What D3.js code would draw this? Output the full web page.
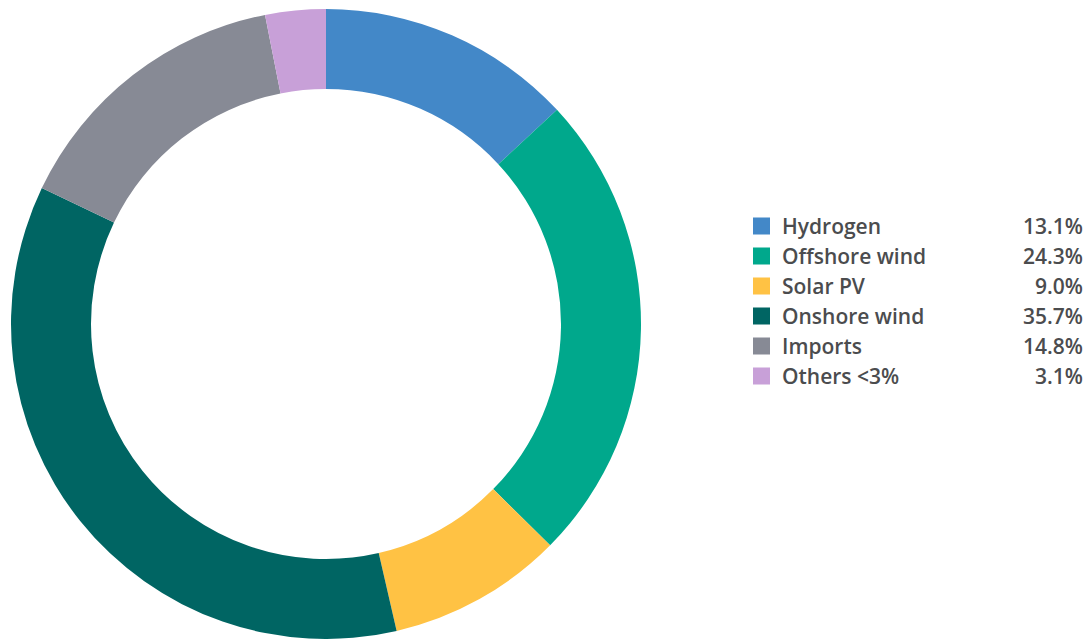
<!DOCTYPE html>
<html><head><meta charset="utf-8">
<script src="https://cdn.jsdelivr.net/npm/d3@7"></script>
<style>html,body{margin:0;padding:0;background:#fff;}svg{display:block;}</style>
</head><body>
<svg id="chart" width="1088" height="639"></svg>
<script>
const categories = ["Hydrogen","Offshore wind","Solar PV","Onshore wind","Imports","Others <3%"];
const values = [13.1,24.3,9.0,35.7,14.8,3.1];
const valueLabels = ["13.1%","24.3%","9.0%","35.7%","14.8%","3.1%"];
const colors = ["#4388c8","#00a88c","#ffc244","#006563","#878a95","#c8a0d8"];

const svg = d3.select("#chart");
const cx = 326, cy = 324, rOut = 315, rIn = 235;
const pie = d3.pie().sort(null).value(d => d);
const arc = d3.arc().innerRadius(rIn).outerRadius(rOut);
const g = svg.append("g").attr("transform", `translate(${cx},${cy})`);
g.selectAll("path").data(pie(values)).join("path")
  .attr("d", arc).attr("fill", (d,i) => colors[i]);

const y = d3.scalePoint().domain(categories).range([226, 376]);
const leg = svg.append("g").attr("font-family","'Open Sans', Lato, sans-serif")
  .attr("font-size", 21).attr("font-weight", 600).attr("fill", "#4b4c4e");
const rows = leg.selectAll("g").data(categories).join("g")
  .attr("transform", d => `translate(0,${y(d)})`);
rows.append("rect").attr("x", 753).attr("y", -8.5).attr("width", 17).attr("height", 17)
  .attr("fill", (d,i) => colors[i]);
rows.append("text").attr("x", 782).attr("y", 7.5).text(d => d);
rows.append("text").attr("x", 1083).attr("y", 7.5).attr("text-anchor","end")
  .text((d,i) => valueLabels[i]);
</script>
</body></html>
